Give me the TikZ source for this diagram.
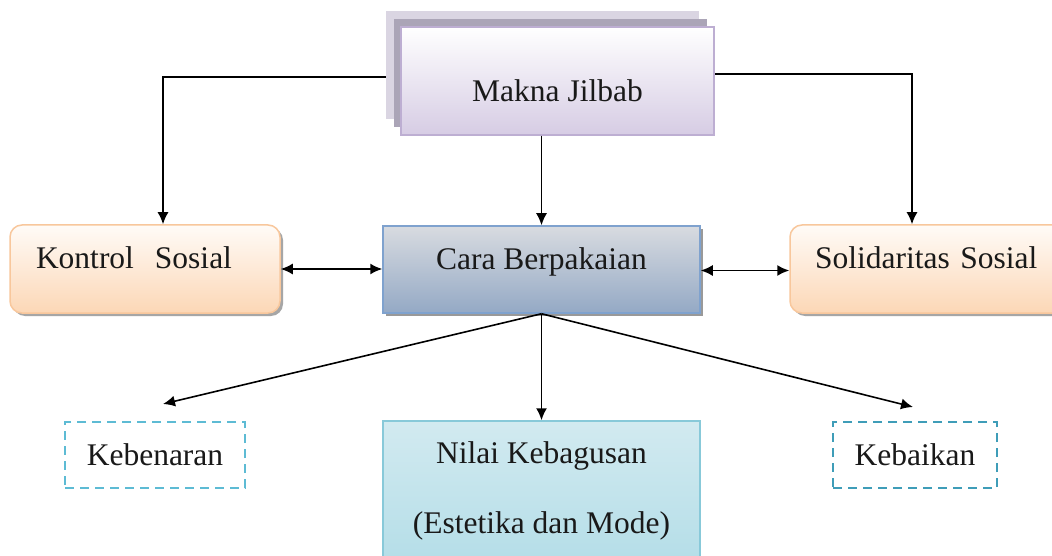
\documentclass[tikz,border=0pt]{standalone}
\usepackage{fontspec}
\setmainfont{Liberation Serif}
\usetikzlibrary{arrows.meta,shadows,backgrounds}
\definecolor{mjborder}{HTML}{BDAED2}
\definecolor{mjbottom}{HTML}{D6CCE4}
\definecolor{mjshA}{HTML}{DAD5E2}
\definecolor{mjshB}{HTML}{ABA5B7}
\definecolor{orborder}{HTML}{F8C79C}
\definecolor{ortop}{HTML}{FFFBF7}
\definecolor{orbottom}{HTML}{FCD7B6}
\definecolor{cbborder}{HTML}{7FA2CE}
\definecolor{cbtop}{HTML}{D8DBE0}
\definecolor{cbbottom}{HTML}{94A9C5}
\definecolor{nkborder}{HTML}{88C9D9}
\definecolor{nktop}{HTML}{D2EAF0}
\definecolor{nkbottom}{HTML}{B5DEE8}
\definecolor{dashA}{HTML}{5DBBD4}
\definecolor{dashB}{HTML}{3F9DB8}
\tikzset{
  lbl/.style={font=\fontsize{31.5}{36}\selectfont, text=black!90},
  mjbox/.style={lbl, draw=mjborder, line width=1.5pt, top color=white, bottom color=mjbottom,
    general shadow={fill=mjshA, shadow xshift=-15pt, shadow yshift=16pt},
    general shadow={fill=mjshB, shadow xshift=-7pt, shadow yshift=8pt},
    minimum width=313pt, minimum height=108pt, inner sep=0pt},
  orbox/.style={lbl, draw=orborder, line width=1.5pt, rounded corners=12pt, top color=ortop, bottom color=orbottom,
    drop shadow={shadow xshift=3pt, shadow yshift=-3pt, fill=black!35, opacity=1},
    minimum height=88pt, inner ysep=0pt, align=left},
  cbbox/.style={lbl, draw=cbborder, line width=1.5pt, top color=cbtop, bottom color=cbbottom,
    drop shadow={shadow xshift=3pt, shadow yshift=-3pt, fill=black!40, opacity=1},
    minimum width=317pt, minimum height=87pt, inner sep=0pt},
  nkbox/.style={lbl, draw=nkborder, line width=1.5pt, top color=nktop, bottom color=nkbottom,
    minimum width=317pt, minimum height=139pt, inner sep=0pt, align=center},
  dbox/.style={lbl, line width=2pt, dash pattern=on 9pt off 6pt, minimum height=66pt, inner sep=0pt},
  conn/.style={line width=1.6pt, black},
  arr/.style={conn, -{Latex[length=12pt,width=11pt]}},
  darr/.style={conn, {Latex[length=12pt,width=11pt]}-{Latex[length=12pt,width=11pt]}}
}
\begin{document}
\begin{tikzpicture}[x=1pt,y=-1pt]
\clip (0,0) rectangle (1052,556);

\node[mjbox, text height=42pt, text depth=0pt] (mj) at (557.5,81) {Makna Jilbab};
\node[orbox, text width=218pt, inner xsep=26pt, text height=20pt, text depth=20pt] (ks) at (145,269) {Kontrol\ \ Sosial};
\node[cbbox, text height=20pt, text depth=20pt] (cb) at (541.5,269.5) {Cara Berpakaian};
\node[orbox, text width=250pt, inner xsep=25pt, text height=20pt, text depth=20pt] (ss) at (940,269) {Solidaritas Sosial};
\node[dbox, draw=dashA, minimum width=180pt] (kb) at (155,455) {Kebenaran};
\node[nkbox] (nk) at (541.5,490.5) {Nilai Kebagusan\\[34pt](Estetika dan Mode)};
\node[dbox, draw=dashB, minimum width=164pt] (kbk) at (915,455) {Kebaikan};

\begin{scope}[on background layer]
\fill[white] (0,0) rectangle (1052,556);
\draw[arr] ([yshift=4pt]mj.west) -| ([xshift=18pt]ks.north);
\draw[arr] ([yshift=7pt]mj.east) -| (ss.north -| 912,0);
\end{scope}
\draw[arr] (cb.north |- mj.south) -- (cb.north);
\draw[darr] (ks.east) -- (ks.east -| cb.west);
\draw[darr] ([yshift=-1pt]cb.east) -- ([yshift=-1pt]cb.east -| ss.west);
\draw[arr] (cb.south) -- ([xshift=8pt,yshift=17pt]kb.north);
\draw[arr] (cb.south) -- (nk.north);
\draw[arr] (cb.south) -- ([xshift=-2pt,yshift=14pt]kbk.north);
\end{tikzpicture}
\end{document}
